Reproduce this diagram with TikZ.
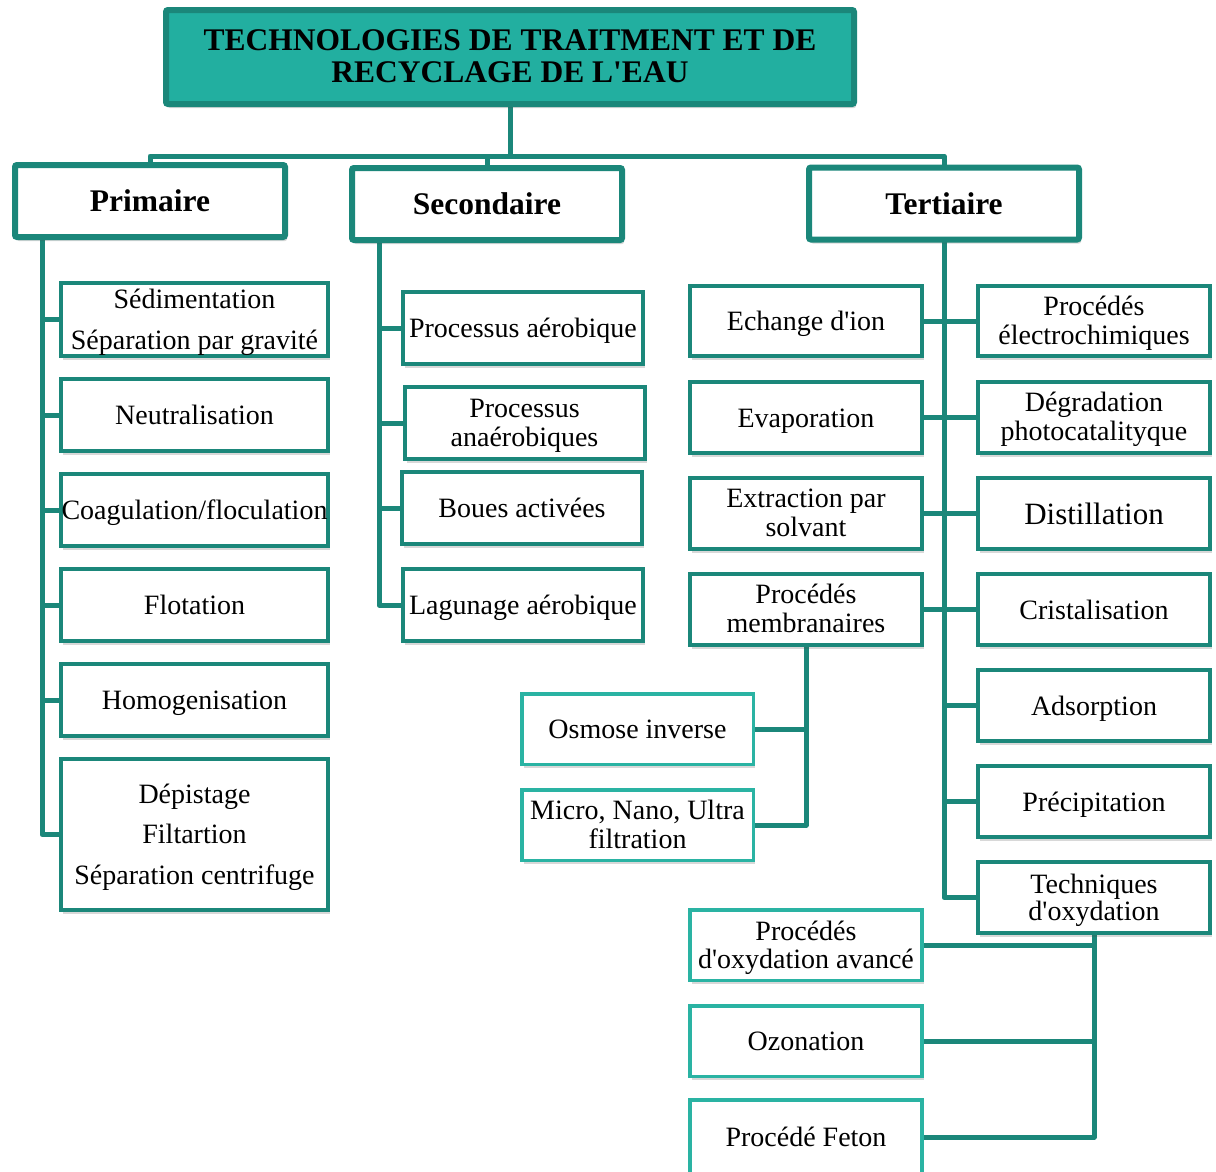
\documentclass[tikz,border=0pt]{standalone}
\usepackage{fontspec}
\newfontfamily\serif{Liberation Serif}
\usetikzlibrary{shadows,backgrounds}
\definecolor{tealD}{HTML}{1B877A}
\definecolor{tealL}{HTML}{22AFA0}
\definecolor{tealS}{HTML}{2AB3A3}
\newcommand{\dn}[2]{\raisebox{#1}{\vphantom{#2}}#2}
\tikzset{
  shad/.style={drop shadow={shadow xshift=2pt, shadow yshift=-4pt, opacity=0.22, fill=black!70}},
  base/.style={rectangle, inner sep=0pt, outer sep=0pt, align=center, fill=white, shad,
    execute at begin node={\rule{0pt}{0.9em}}, execute at end node={\rule[-0.216em]{0pt}{0pt}}},
  ml/.style={execute at begin node={}, execute at end node={}},
  titlebox/.style={base, ml, fill=tealL, draw=tealD, line width=6pt, rounded corners=2pt, font=\serif\fontsize{31.5}{32}\selectfont\bfseries},
  catbox/.style={base, draw=tealD, line width=6pt, rounded corners=2pt, minimum width=270pt, minimum height=72pt, font=\serif\fontsize{31.5}{32}\selectfont\bfseries},
  itembox/.style={base, draw=tealD, line width=4pt, font=\serif\fontsize{28}{29}\selectfont},
  pbox/.style={itembox, minimum width=267pt, minimum height=72pt},
  sbox/.style={itembox, minimum width=240pt, minimum height=72pt},
  tbox/.style={itembox, minimum width=232pt, minimum height=71pt},
  subbox/.style={base, draw=tealS, line width=3.5pt, minimum width=232pt, minimum height=70.5pt, font=\serif\fontsize{28}{29}\selectfont},
  conn/.style={draw=tealD, line width=5pt, line join=round},
}
\begin{document}
\begin{tikzpicture}[x=1pt, y=-1pt]
\useasboundingbox (0,0) rectangle (1216,1171);
% title and categories
\node[titlebox, minimum width=688pt, minimum height=94pt] (title) at (510,57) {\dn{4pt}{TECHNOLOGIES DE TRAITMENT ET DE}\\RECYCLAGE DE L'EAU};
\node[catbox] (prim) at (150,201) {Primaire};
\node[catbox] (sec) at (487,204) {Secondaire};
\node[catbox] (ter) at (944,203.5) {Tertiaire};
% primaire
\node[pbox, ml, minimum height=71pt, font=\serif\fontsize{28}{41}\selectfont] (p1) at (194.5,319.5) {\dn{6pt}{Sédimentation}\\Séparation par gravité};
\node[pbox] (p2) at (194.5,415) {Neutralisation};
\node[pbox] (p3) at (194.5,510) {Coagulation/floculation};
\node[pbox] (p4) at (194.5,605) {Flotation};
\node[pbox] (p5) at (194.5,700) {Homogenisation};
\node[pbox, ml, minimum height=151pt, font=\serif\fontsize{28}{40.5}\selectfont] (p6) at (194.5,834.5) {\dn{5pt}{Dépistage}\\Filtartion\\Séparation centrifuge};
% secondaire
\node[sbox] (s1) at (523,328) {Processus aérobique};
\node[sbox, ml] (s2) at (524.5,423) {\dn{6pt}{Processus}\\anaérobiques};
\node[sbox] (s3) at (522,508) {Boues activées};
\node[sbox] (s4) at (523,605) {Lagunage aérobique};
% tertiaire left
\node[tbox, minimum height=70pt] (l1) at (806,321) {Echange d'ion};
\node[tbox] (l2) at (806,417.5) {Evaporation};
\node[tbox, ml] (l3) at (806,513.5) {\dn{4pt}{Extraction par}\\solvant};
\node[tbox, ml] (l4) at (806,609.5) {\dn{4pt}{Procédés}\\membranaires};
% tertiaire right
\node[tbox, ml, minimum height=70pt] (r1) at (1094,321) {\dn{4pt}{Procédés}\\électrochimiques};
\node[tbox, ml] (r2) at (1094,417.5) {\dn{4pt}{Dégradation}\\photocatalityque};
\node[tbox, font=\serif\fontsize{31}{32}\selectfont] (r3) at (1094,513.5) {Distillation};
\node[tbox] (r4) at (1094,609.5) {Cristalisation};
\node[tbox] (r5) at (1094,705.5) {Adsorption};
\node[tbox] (r6) at (1094,801.5) {Précipitation};
\node[tbox, ml, font=\serif\fontsize{28}{27.5}\selectfont] (r7) at (1094,897.5) {\dn{6pt}{Techniques}\\d'oxydation};
% sub boxes
\node[subbox, minimum width=231.5pt] (m1) at (637.5,729) {Osmose inverse};
\node[subbox, ml, minimum width=231.5pt] (m2) at (637.5,825) {\dn{4pt}{Micro, Nano, Ultra}\\filtration};
\node[subbox, ml, font=\serif\fontsize{28}{28}\selectfont] (o1) at (806,945) {\dn{6pt}{Procédés}\\d'oxydation avancé};
\node[subbox] (o2) at (806,1041) {Ozonation};
\node[subbox, minimum height=74pt] (o3) at (806,1137) {Procédé Feton};
% connectors
\begin{pgfonlayer}{background}
\coordinate (bar) at (510,156);
\draw[conn] (title.south) -- (bar) -| (prim.north);
\draw[conn] (bar) -| (sec.north);
\draw[conn] (bar) -| (ter.north);
\coordinate (pt) at (42,238);
\foreach \n in {p1,p2,p3,p4,p5,p6} \draw[conn] (pt) |- (\n.west);
\coordinate (st) at (379,241);
\foreach \n in {s1,s2,s3,s4} \draw[conn] (st) |- (\n.west);
\draw[conn] (ter.south) |- (r7.west);
\foreach \n in {r5,r6} \draw[conn] (ter.south) |- (\n.west);
\draw[conn] (l1.east) -- (r1.west);
\draw[conn] (l2.east) -- (r2.west);
\draw[conn] (l3.east) -- (r3.west);
\draw[conn] (l4.east) -- (r4.west);
\draw[conn] (l4.south) |- (m1.east);
\draw[conn] (l4.south) |- (m2.east);
\foreach \n in {o1,o2,o3} \draw[conn] (r7.south) |- (\n.east);
\end{pgfonlayer}
\end{tikzpicture}
\end{document}
